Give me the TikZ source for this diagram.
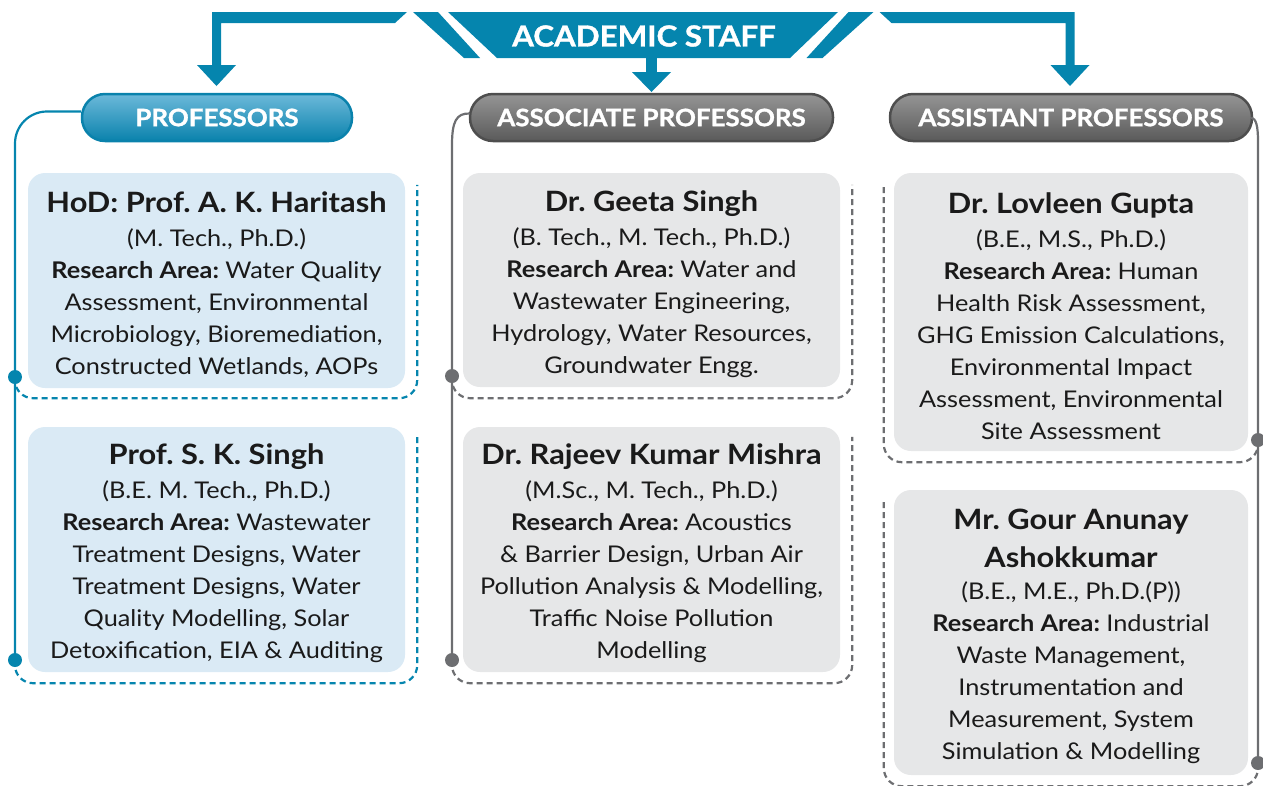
\documentclass[tikz,border=0pt]{standalone}
\usepackage{fontspec}
\setmainfont{Lato}[FakeStretch=1.1]
\newfontfamily\headfont{Lato}[FakeStretch=1.08, UprightFont=*-Bold, FakeBold=1.2]
\usetikzlibrary{calc}
\frenchspacing
\definecolor{ablue}{HTML}{0585AE}
\definecolor{cblue}{HTML}{DAEAF5}
\definecolor{cgray}{HTML}{E6E7E8}
\definecolor{lgray}{HTML}{6D6E71}
\definecolor{txt}{HTML}{1A1A1A}
\definecolor{pbtop}{HTML}{6CB9DA}
\definecolor{pbbot}{HTML}{0A82AC}
\definecolor{pgtop}{HTML}{959595}
\definecolor{pgbot}{HTML}{5A5A5A}
\definecolor{pgline}{HTML}{4E4E4E}
\newcommand{\nm}[1]{{\fontsize{28}{32}\selectfont\bfseries #1}}
\newcommand{\ra}{\textbf{Research Area:}}
\begin{document}
\begin{tikzpicture}[x=1pt,y=-1pt,
  cardbox/.style={rounded corners=17pt, inner sep=0pt, align=center, text=txt,
     font=\fontsize{23}{32}\selectfont\frenchspacing},
  cardtext/.style={cardbox, yshift=-4pt},
  bluecard/.style={cardbox, fill=cblue},
  graycard/.style={cardbox, fill=cgray},
  pill/.style={rounded corners=23pt, inner sep=0pt, minimum height=47pt, line width=2.5pt,
     text=white, font=\fontsize{24}{26}\headfont},
  bluepill/.style={pill, draw=pbbot, top color=pbtop, bottom color=pbbot},
  graypill/.style={pill, draw=pgline, top color=pgtop, bottom color=pgbot},
  bline/.style={draw=ablue, line width=2.2pt},
  gline/.style={draw=lgray, line width=2.2pt},
  bdash/.style={bline, dash pattern=on 6pt off 4pt},
  gdash/.style={gline, dash pattern=on 6pt off 4pt},
  bdot/.style={circle, fill=ablue, inner sep=0pt, minimum size=14pt},
  gdot/.style={circle, fill=lgray, inner sep=0pt, minimum size=14pt}
]
\useasboundingbox (0,0) rectangle (1263,785);

% ---- top banner and arrows
\fill[ablue] (448,12) -- (838,12) -- (790,58) -- (497,58) -- cycle;
\fill[ablue] (413,12) -- (438,12) -- (480,58) -- (464,58) -- cycle;
\fill[ablue] (873.5,12) -- (848.5,12) -- (806.5,58) -- (822.5,58) -- cycle;
\fill[ablue] (407,12) -- (395,23) -- (221,23) -- (221,65) -- (236,65) -- (216.5,86)
  -- (197,65) -- (212,65) -- (212,12) -- cycle;
\fill[ablue] (879.5,12) -- (891.5,23) -- (1065.5,23) -- (1065.5,65) -- (1050.5,65) -- (1070,86)
  -- (1089.5,65) -- (1074.5,65) -- (1074.5,12) -- cycle;
\fill[ablue] (646,57) rectangle (657,73);
\fill[ablue] (632,72) -- (671,72) -- (651.5,92) -- cycle;
\node[text=white, font=\fontsize{29}{34}\headfont] (title) at (644,36) {ACADEMIC STAFF};

% ---- column headers
\node[bluepill, minimum width=270pt] (p1) at (217,117.5) {PROFESSORS};
\node[graypill, minimum width=363pt] (p2) at (651.5,117.5) {ASSOCIATE PROFESSORS};
\node[graypill, minimum width=362pt] (p3) at (1071,117.5) {ASSISTANT PROFESSORS};

% ---- cards
\node[bluecard, minimum width=377pt, minimum height=215pt] (c11) at (216.5,280.5) {};
\node[bluecard, minimum width=377pt, minimum height=245pt] (c12) at (216.5,549.5) {};
\node[graycard, minimum width=377pt, minimum height=214pt] (c21) at (651.5,280) {};
\node[graycard, minimum width=377pt, minimum height=245pt] (c22) at (651.5,549.5) {};
\node[graycard, minimum width=354pt, minimum height=278pt] (c31) at (1071,312) {};
\node[graycard, minimum width=354pt, minimum height=285pt] (c32) at (1071,632.5) {};

\node[cardtext] (t11) at (c11) {\nm{HoD: Prof. A. K. Haritash}\\[2pt]
(M. Tech., Ph.D.)\\ \ra{} Water Quality\\ Assessment, Environmental\\
Microbiology, Bioremediation,\\ Constructed Wetlands, AOPs};
\node[cardtext] (t12) at (c12) {\nm{Prof. S. K. Singh}\\[2pt]
(B.E. M. Tech., Ph.D.)\\ \ra{} Wastewater\\ Treatment Designs, Water\\
Treatment Designs, Water\\ Quality Modelling, Solar\\ Detoxification, EIA \& Auditing};
\node[cardtext] (t21) at (c21) {\nm{Dr. Geeta Singh}\\[2pt]
(B. Tech., M. Tech., Ph.D.)\\ \ra{} Water and\\ Wastewater Engineering,\\
Hydrology, Water Resources,\\ Groundwater Engg.};
\node[cardtext] (t22) at (c22) {\nm{Dr. Rajeev Kumar Mishra}\\[2pt]
(M.Sc., M. Tech., Ph.D.)\\ \ra{} Acoustics\\ \& Barrier Design, Urban Air\\
Pollution Analysis \& Modelling,\\ Traffic Noise Pollution\\ Modelling};
\node[cardtext] (t31) at (c31) {\nm{Dr. Lovleen Gupta}\\[2pt]
(B.E., M.S., Ph.D.)\\ \ra{} Human\\ Health Risk Assessment,\\
GHG Emission Calculations,\\ Environmental Impact\\ Assessment, Environmental\\ Site Assessment};
\node[cardtext] (t32) at (c32) {\nm{Mr. Gour Anunay}\\[6pt] \nm{Ashokkumar}\\
(B.E., M.E., Ph.D.(P))\\ \ra{} Industrial\\ Waste Management,\\
Instrumentation and\\ Measurement, System\\ Simulation \& Modelling};

% ---- dots
\node[bdot] (d11) at (15,377) {};
\node[bdot] (d12) at (15,660) {};
\node[gdot] (d21) at (452,376) {};
\node[gdot] (d22) at (452,660) {};
\node[gdot] (d31) at (1258,440) {};
\node[gdot] (d32) at (1258,763) {};

% ---- solid column lines
\draw[bline, rounded corners=32pt] ([yshift=6pt]p1.west) -| (d12.center);
\coordinate (g0) at ([yshift=4pt,xshift=1pt]p2.west);
\draw[gline] (g0) .. controls (456,113) and (452,122) .. (452,145) -- (d22.center);
\coordinate (h0) at ([xshift=-2pt]p3.east);
\draw[gline] (h0) .. controls (1256,119) and (1258,125) .. (1258,142) -- (d32.center);

% ---- dashed brackets
\coordinate (e11) at ($(c11.north east)+(12,12)$);
\coordinate (e12) at ($(c12.north east)+(12,10)$);
\coordinate (e21) at ($(c21.north east)+(12,12)$);
\coordinate (e22) at ($(c22.north east)+(12,10)$);
\coordinate (e31) at ($(c31.north west)+(-10,12)$);
\coordinate (e32) at ($(c32.north west)+(-10,10)$);
\draw[bdash, rounded corners=18pt] (d11.center) |- ($(c11.south east)+(12,10)$) -- (e11);
\draw[bdash, rounded corners=18pt] (d12.center) |- ($(c12.south east)+(12,11)$) -- (e12);
\draw[gdash, rounded corners=18pt] (d21.center) |- ($(c21.south east)+(12,11)$) -- (e21);
\draw[gdash, rounded corners=18pt] (d22.center) |- ($(c22.south east)+(12,11)$) -- (e22);
\draw[gdash, rounded corners=18pt] (d31.center) |- ($(c31.south west)+(-10,11)$) -- (e31);
\draw[gdash, rounded corners=18pt] (d32.center) |- ($(c32.south west)+(-10,11)$) -- (e32);
\end{tikzpicture}
\end{document}
